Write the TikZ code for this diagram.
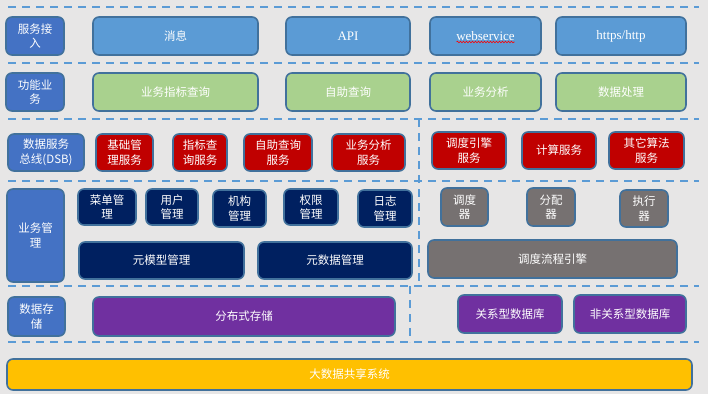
\documentclass[tikz,border=0pt]{standalone}
\usepackage{fontspec}
\setmainfont{Noto Sans CJK SC}
\newfontfamily\latinserif{Liberation Serif}
\usetikzlibrary{decorations.pathmorphing}
\definecolor{bgc}{HTML}{E7E6E6}
\definecolor{dashc}{HTML}{5B9BD5}
\definecolor{edgec}{HTML}{41719C}
\definecolor{labelc}{HTML}{4472C4}
\definecolor{accessc}{HTML}{5B9BD5}
\definecolor{funcc}{HTML}{A9D18E}
\definecolor{svcc}{HTML}{C00000}
\definecolor{mgmtc}{HTML}{002060}
\definecolor{schedc}{HTML}{767171}
\definecolor{storec}{HTML}{7030A0}
\definecolor{sharec}{HTML}{FFC000}
\tikzset{
  box/.style={draw=edgec, line width=1.6pt, rounded corners=6pt, text=white,
    align=center, inner sep=1pt, font=\fontsize{11.5}{14.5}\selectfont},
  sep/.style={draw=dashc, line width=2.6pt, dash pattern=on 8pt off 6pt},
  latin/.style={font=\latinserif\fontsize{13}{15}\selectfont},
}
\newcommand{\bx}[7]{% name, color, cx, cy, w, h, text
  \node[box, fill=#2, minimum width=#5pt, minimum height=#6pt] (#1) at (#3,#4) {#7};}
\begin{document}
\begin{tikzpicture}[x=1pt, y=-1pt]
\fill[bgc] (0,0) rectangle (708,394);
\useasboundingbox (0,0) rectangle (708,394);

% dashed separators
\draw[sep] (8,7) -- (699,7);
\draw[sep] (8,63) -- (699,63);
\draw[sep] (8,119) -- (699,119);
\draw[sep] (8,181) -- (699,181);
\draw[sep] (419,119) -- (419,286);
\draw[sep] (8,286) -- (699,286);
\draw[sep] (410,286) -- (410,342);
\draw[sep] (8,342) -- (699,342);

% row 1
\bx{r1}{labelc}{35}{36}{58}{38}{服务接\\入}
\bx{msg}{accessc}{175.5}{36}{165}{38}{消息}
\node[box, latin, fill=accessc, minimum width=124pt, minimum height=38pt] (api) at (348,36) {API};
\node[box, latin, fill=accessc, minimum width=111pt, minimum height=38pt] (ws) at (485.5,36) {webservice};
\node[box, latin, fill=accessc, minimum width=130pt, minimum height=38pt] (http) at (621,36) {https/http};
\draw[red, line width=0.6pt, decorate, decoration={snake, amplitude=0.8pt, segment length=3pt}]
  ([xshift=-29pt,yshift=-6pt]ws.center) -- ([xshift=29pt,yshift=-6pt]ws.center);

% row 2
\bx{r2}{labelc}{35}{92}{58}{38}{功能业\\务}
\bx{f1}{funcc}{175.5}{92}{165}{38}{业务指标查询}
\bx{f2}{funcc}{348}{92}{124}{38}{自助查询}
\bx{f3}{funcc}{485.5}{92}{111}{38}{业务分析}
\bx{f4}{funcc}{621}{92}{130}{38}{数据处理}

% row 3
\bx{r3}{labelc}{46}{152.5}{76}{37}{数据服务\\总线(DSB)}
\bx{s1}{svcc}{124.5}{152.5}{57}{37}{基础管\\理服务}
\bx{s2}{svcc}{200}{152.5}{54}{37}{指标查\\询服务}
\bx{s3}{svcc}{278}{152.5}{68}{37}{自助查询\\服务}
\bx{s4}{svcc}{368.5}{152.5}{73}{37}{业务分析\\服务}
\bx{s5}{svcc}{469}{150.5}{74}{37}{调度引擎\\服务}
\bx{s6}{svcc}{559}{150.5}{74}{37}{计算服务}
\bx{s7}{svcc}{646.5}{150.5}{75}{37}{其它算法\\服务}

% row 4
\bx{r4}{labelc}{35.5}{235.5}{57}{93}{业务管\\理}
\bx{m1}{mgmtc}{107}{207}{58}{36}{菜单管\\理}
\bx{m2}{mgmtc}{172}{207}{52}{36}{用户\\管理}
\bx{m3}{mgmtc}{239.5}{208.5}{53}{37}{机构\\管理}
\bx{m4}{mgmtc}{311}{207}{54}{36}{权限\\管理}
\bx{m5}{mgmtc}{385}{208.5}{54}{37}{日志\\管理}
\bx{m6}{mgmtc}{161.5}{260.5}{165}{37}{元模型管理}
\bx{m7}{mgmtc}{335}{260.5}{154}{37}{元数据管理}
\bx{d1}{schedc}{464.5}{207}{47}{38}{调度\\器}
\bx{d2}{schedc}{551}{207}{48}{38}{分配\\器}
\bx{d3}{schedc}{644}{208.5}{48}{37}{执行\\器}
\bx{d4}{schedc}{552.5}{259}{249}{38}{调度流程引擎}

% row 5
\bx{r5}{labelc}{36.5}{316.5}{57}{39}{数据存\\储}
\bx{t1}{storec}{244}{316.5}{302}{39}{分布式存储}
\bx{t2}{storec}{510}{314}{104}{38}{关系型数据库}
\bx{t3}{storec}{630}{314}{112}{38}{非关系型数据库}

% bottom
\bx{all}{sharec}{349.5}{374.5}{685}{31}{大数据共享系统}
\end{tikzpicture}
\end{document}
